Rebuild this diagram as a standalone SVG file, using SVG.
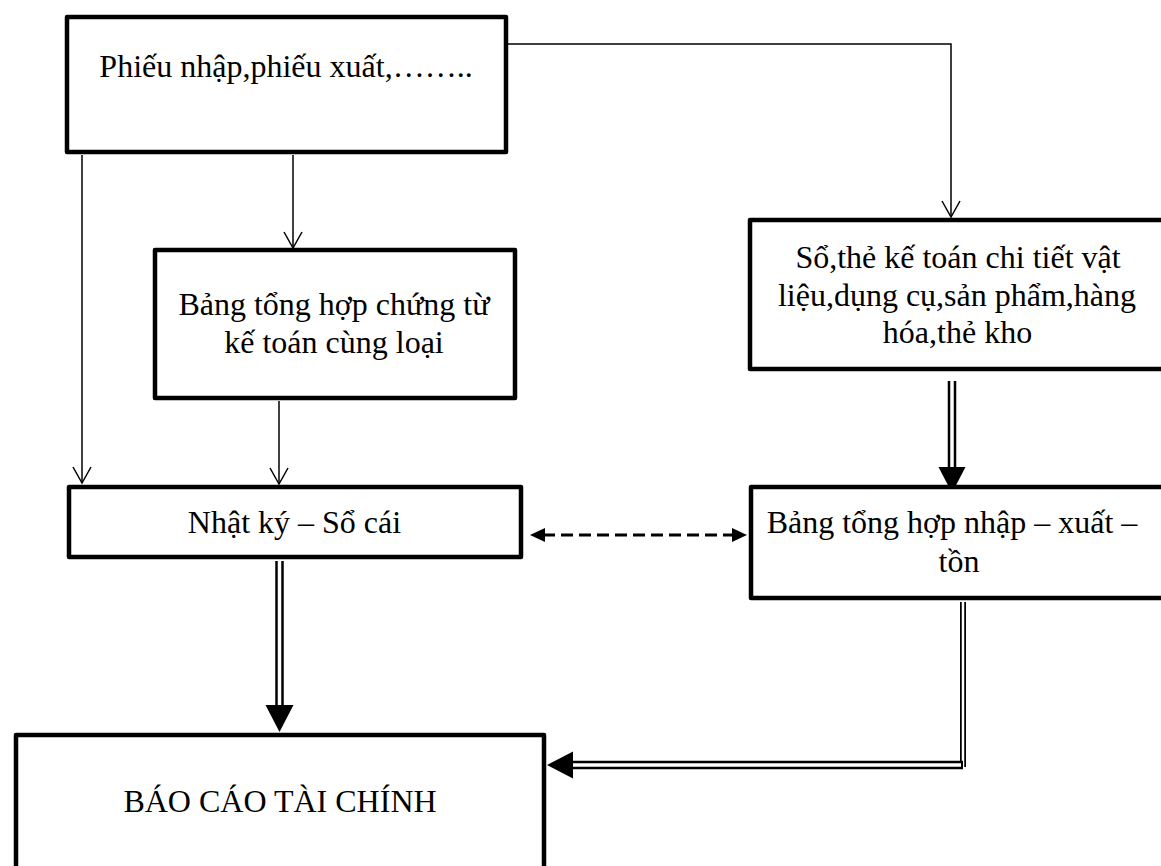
<svg xmlns="http://www.w3.org/2000/svg" width="1161" height="866" viewBox="0 0 1161 866">
  <style>
    .box { fill: #fff; stroke: #000; stroke-width: 4.5; stroke-linejoin: round; }
    .lbl { font-family: "Liberation Serif", "Times New Roman", serif; font-size: 32px; fill: #000; text-anchor: middle; }
    .thin { fill: none; stroke: #000; stroke-width: 1.5; }
    .dblOut { fill: none; stroke: #000; stroke-width: 8.5; }
    .dblIn { fill: none; stroke: #fff; stroke-width: 3.5; }
    .head { fill: #000; stroke: none; }
    .dash { fill: none; stroke: #000; stroke-width: 3; stroke-dasharray: 12 6; }
  </style>
  <rect width="1161" height="866" fill="#fff"/>

  <g id="connectors">
    <path class="thin" d="M508,44 H951 V217"/>
    <polyline class="thin" points="942,201 951,217 960,201"/>
    <path class="thin" d="M82,155 V483"/>
    <polyline class="thin" points="73,467 82,483 91,467"/>
    <path class="thin" d="M293,155 V248"/>
    <polyline class="thin" points="284,232 293,248 302,232"/>
    <path class="thin" d="M279,401 V484"/>
    <polyline class="thin" points="270,468 279,484 288,468"/>

    <path class="dblOut" d="M279.5,561 V707"/>
    <path class="dblIn" d="M279.5,561 V707"/>
    <polygon class="head" points="265.5,705 293.5,705 279.5,732"/>

    <path class="dblOut" d="M952,381 V469"/>
    <path class="dblIn" d="M952,381 V469"/>
    <polygon class="head" points="938.5,467 965.5,467 952,493"/>

    <path fill="none" stroke="#000" stroke-width="6" d="M963,602 V767"/>
    <path fill="none" stroke="#fff" stroke-width="2.5" d="M963,602 V767"/>
    <path class="dblOut" d="M963,765 H572"/>
    <path class="dblIn" d="M961,765 H572"/>
    <polygon class="head" points="573,751.5 573,778.5 547,765"/>

    <path class="dash" d="M543,535 H735"/>
    <polygon class="head" points="530,535 545,528 545,542"/>
    <polygon class="head" points="747,535 732,528 732,542"/>
  </g>

  <g id="n-phieu">
    <rect class="box" x="67" y="17" width="439" height="135"/>
    <text class="lbl" x="286" y="77">Phiếu nhập,phiếu xuất,……..</text>
  </g>

  <g id="n-bangtonghopchungtu">
    <rect class="box" x="155" y="250" width="360" height="148"/>
    <text class="lbl" x="334" y="315">Bảng tổng hợp chứng từ</text>
    <text class="lbl" x="334" y="353">kế toán cùng loại</text>
  </g>

  <g id="n-sothe">
    <rect class="box" x="750" y="220" width="430" height="149"/>
    <text class="lbl" x="958" y="268">Sổ,thẻ kế toán chi tiết vật</text>
    <text class="lbl" x="957" y="305.5">liệu,dụng cụ,sản phẩm,hàng</text>
    <text class="lbl" x="957.5" y="343">hóa,thẻ kho</text>
  </g>

  <g id="n-nhatky">
    <rect class="box" x="69" y="487" width="452" height="70"/>
    <text class="lbl" x="294.5" y="533">Nhật ký – Sổ cái</text>
  </g>

  <g id="n-bangnxt">
    <rect class="box" x="751" y="487" width="430" height="111"/>
    <text class="lbl" x="952" y="533">Bảng tổng hợp nhập – xuất –</text>
    <text class="lbl" x="959" y="572">tồn</text>
  </g>

  <g id="n-baocao">
    <rect class="box" x="16" y="735" width="528" height="160"/>
    <text class="lbl" x="280" y="812">BÁO CÁO TÀI CHÍNH</text>
  </g>
</svg>
